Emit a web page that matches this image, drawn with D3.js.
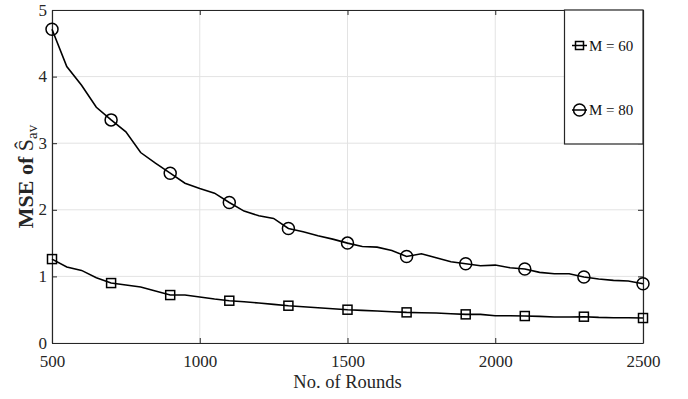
<!DOCTYPE html>
<html><head><meta charset="utf-8">
<script src="https://cdn.jsdelivr.net/npm/d3@7"></script>
<style>body{margin:0;background:#fff}svg{display:block}text{font-family:"Liberation Serif","DejaVu Serif",serif;font-weight:normal}</style>
</head><body><svg id="c" width="688" height="399"></svg>
<script>
const rounds = [500,550,600,650,700,750,800,850,900,950,1000,1050,1100,1150,1200,1250,1300,1350,1400,1450,1500,1550,1600,1650,1700,1750,1800,1850,1900,1950,2000,2050,2100,2150,2200,2250,2300,2350,2400,2450,2500];
const m80 = [4.71,4.15,3.87,3.54,3.35,3.17,2.86,2.70,2.55,2.40,2.32,2.25,2.11,1.98,1.91,1.87,1.72,1.67,1.61,1.56,1.50,1.45,1.44,1.39,1.30,1.34,1.28,1.22,1.19,1.16,1.17,1.13,1.11,1.06,1.04,1.04,0.99,0.96,0.94,0.93,0.89];
const m60 = [1.26,1.14,1.09,0.98,0.90,0.87,0.84,0.78,0.72,0.72,0.69,0.66,0.635,0.62,0.60,0.58,0.56,0.545,0.53,0.515,0.50,0.49,0.48,0.47,0.46,0.455,0.45,0.44,0.43,0.43,0.41,0.41,0.405,0.40,0.39,0.39,0.395,0.385,0.38,0.38,0.375];
const markerRounds = [500,700,900,1100,1300,1500,1700,1900,2100,2300,2500];
const xTicks = [500,1000,1500,2000,2500];
const yTicks = [0,1,2,3,4,5];
const seriesNames = ["M = 60","M = 80"];

const svg = d3.select("#c");
const L=52, R=643, T=10, B=343;
const x = d3.scaleLinear().domain([500,2500]).range([L,R]);
const y = d3.scaleLinear().domain([0,5]).range([B,T]);
const axisCol = "#262626";
const serif = "'Liberation Serif', 'DejaVu Serif', serif";

// grid
const g = svg.append("g");
g.selectAll(".gx").data(xTicks).enter().append("line")
 .attr("x1",d=>x(d)).attr("x2",d=>x(d)).attr("y1",T).attr("y2",B)
 .attr("stroke","#e3e3e3").attr("stroke-width",1);
g.selectAll(".gy").data(yTicks).enter().append("line")
 .attr("y1",d=>y(d)).attr("y2",d=>y(d)).attr("x1",L).attr("x2",R)
 .attr("stroke","#e3e3e3").attr("stroke-width",1);

// axes
const fmt = d3.format("d");
const ax = svg.append("g").attr("transform",`translate(0,${B})`)
 .call(d3.axisBottom(x).tickValues(xTicks).tickSizeInner(-5).tickSizeOuter(0).tickPadding(12).tickFormat(fmt));
const axT = svg.append("g").attr("transform",`translate(0,${T})`)
 .call(d3.axisTop(x).tickValues(xTicks).tickSizeInner(-5).tickSizeOuter(0).tickFormat(""));
const ay = svg.append("g").attr("transform",`translate(${L},0)`)
 .call(d3.axisLeft(y).tickValues(yTicks).tickSizeInner(-5).tickSizeOuter(0).tickPadding(5).tickFormat(fmt));
const ayR = svg.append("g").attr("transform",`translate(${R},0)`)
 .call(d3.axisRight(y).tickValues(yTicks).tickSizeInner(-5).tickSizeOuter(0).tickFormat(""));
[ax,axT,ay,ayR].forEach(a=>{
 a.attr("font-family",serif);
 a.select(".domain").attr("stroke",axisCol).attr("stroke-width",1.2);
 a.selectAll(".tick line").attr("stroke",axisCol);
 a.selectAll(".tick text").attr("fill",axisCol).style("font-size","17px");
});
ay.selectAll(".tick text").attr("dy","0.3em");

// lines
const line = d3.line().x((d,i)=>x(rounds[i])).y(d=>y(d)).curve(d3.curveLinear);
[m60,m80].forEach(s=>{
 svg.append("path").datum(s).attr("d",line).attr("fill","none").attr("stroke","#000").attr("stroke-width",1.6);
});
const idx = markerRounds.map(r=>rounds.indexOf(r));
svg.selectAll(".sq").data(idx).enter().append("rect")
 .attr("x",i=>x(rounds[i])-4.5).attr("y",i=>y(m60[i])-4.5).attr("width",9).attr("height",9)
 .attr("fill","none").attr("stroke","#000").attr("stroke-width",1.5);
svg.selectAll(".ci").data(idx).enter().append("circle")
 .attr("cx",i=>x(rounds[i])).attr("cy",i=>y(m80[i])).attr("r",6)
 .attr("fill","none").attr("stroke","#000").attr("stroke-width",1.5);

// legend
const lg = svg.append("g");
lg.append("rect").attr("x",564.5).attr("y",T).attr("width",R-564.5).attr("height",134)
 .attr("fill","#fff").attr("stroke",axisCol).attr("stroke-width",1.2);
const ly = [45.5,110];
seriesNames.forEach((n,k)=>{
 lg.append("line").attr("x1",572).attr("x2",587).attr("y1",ly[k]).attr("y2",ly[k]).attr("stroke","#000").attr("stroke-width",1.5);
 if(k===0) lg.append("rect").attr("x",575.5).attr("y",ly[k]-4).attr("width",8).attr("height",8).attr("fill","none").attr("stroke","#000").attr("stroke-width",1.5);
 else lg.append("circle").attr("cx",579.5).attr("cy",ly[k]).attr("r",6).attr("fill","none").attr("stroke","#000").attr("stroke-width",1.5);
 lg.append("text").attr("x",589).attr("y",ly[k]+5).attr("fill","#111").style("font-size","15px").text(n);
});

// labels
svg.append("text").attr("x",(L+R)/2).attr("y",388).attr("text-anchor","middle")
 .attr("fill",axisCol).style("font-size","18.5px").text("No. of Rounds");
const yl = svg.append("text").attr("transform",`translate(33,${(T+B)/2}) rotate(-90)`).attr("text-anchor","middle")
 .attr("fill",axisCol).style("font-size","22px");
yl.append("tspan").style("font-weight","bold").text("MSE of ");
yl.append("tspan").text("Ŝ");
yl.append("tspan").attr("dy",4).style("font-size","15px").text("av");
</script></body></html>
